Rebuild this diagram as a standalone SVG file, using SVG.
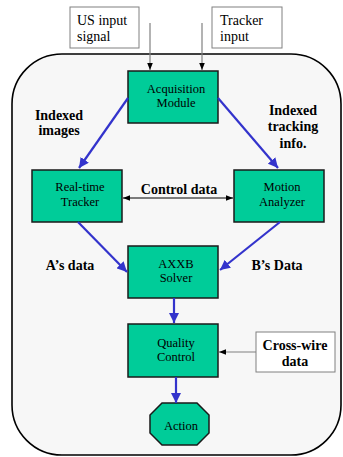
<svg xmlns="http://www.w3.org/2000/svg" width="343" height="457" viewBox="0 0 343 457">
<defs>
<style>
.box{fill:#00CC99;stroke:#1a1a1a;stroke-width:1.5}
.inbox{fill:#ffffff;stroke:#808080;stroke-width:1}
text{font-family:'Liberation Serif','DejaVu Serif','Times New Roman',serif}
.t{font-size:12.5px;fill:#000;text-anchor:middle}
.lb{font-size:14px;font-weight:bold;fill:#000;text-anchor:middle}
.in{font-size:14px;fill:#000}
.blue{stroke:#3333CC;stroke-width:2.2;fill:none}
.grey{stroke:#808080;stroke-width:1.2;fill:none}
.blk{stroke:#000;stroke-width:1;fill:none}
</style>
<marker id="ab" viewBox="0 0 10 10" refX="10" refY="5" markerWidth="10" markerHeight="10" markerUnits="userSpaceOnUse" orient="auto">
<path d="M0,0 L10,5 L0,10 Z" fill="#3333CC"/>
</marker>
<marker id="ak" viewBox="0 0 10 10" refX="10" refY="5" markerWidth="7" markerHeight="7" markerUnits="userSpaceOnUse" orient="auto-start-reverse">
<path d="M0,1 L10,5 L0,9 Z" fill="#000"/>
</marker>
</defs>
<rect x="0" y="0" width="343" height="457" fill="#ffffff"/>
<rect id="frame" x="12" y="54" width="329" height="401" rx="50" ry="50" fill="#f7f7f7" stroke="#000" stroke-width="1.6"/>

<g id="us-input"><rect class="inbox" x="70" y="7" width="69" height="41"/><text class="in" x="77" y="25">US input</text><text class="in" x="77" y="41">signal</text></g>
<g id="tracker-input"><rect class="inbox" x="212" y="7" width="70" height="41"/><text class="in" x="220" y="25">Tracker</text><text class="in" x="220" y="41">input</text></g>

<g id="acquisition"><rect class="box" x="128" y="71" width="90" height="52"/><text class="t" x="176" y="93">Acquisition</text><text class="t" x="176" y="107">Module</text></g>
<g id="realtime"><rect class="box" x="32" y="170" width="90" height="52"/><text class="t" x="80" y="191">Real-time</text><text class="t" x="80" y="206">Tracker</text></g>
<g id="motion"><rect class="box" x="234" y="170" width="90" height="52"/><text class="t" x="282" y="191">Motion</text><text class="t" x="282" y="206">Analyzer</text></g>
<g id="axxb"><rect class="box" x="128" y="246" width="90" height="52"/><text class="t" x="176" y="268">AXXB</text><text class="t" x="176" y="282">Solver</text></g>
<g id="quality"><rect class="box" x="128" y="324" width="90" height="53"/><text class="t" x="176" y="347">Quality</text><text class="t" x="176" y="361">Control</text></g>
<g id="crosswire"><rect class="inbox" x="256" y="332" width="79" height="40"/><text class="lb" x="295" y="350">Cross-wire</text><text class="lb" x="295" y="366">data</text></g>
<g id="action"><polygon class="box" points="162,403 197,403 209,415 209,433 197,445 162,445 150,433 150,415"/><text class="t" x="181" y="430">Action</text></g>

<g id="labels">
<text class="lb" x="59" y="120">Indexed</text><text class="lb" x="59" y="135">images</text>
<text class="lb" x="293" y="115">Indexed</text><text class="lb" x="293" y="131">tracking</text><text class="lb" x="293" y="148">info.</text>
<text class="lb" x="179" y="194">Control data</text>
<text class="lb" x="70" y="270">A’s data</text>
<text class="lb" x="277" y="270">B’s Data</text>
</g>

<g id="connectors">
<line class="grey" x1="150" y1="23" x2="150" y2="70" marker-end="url(#ak)"/>
<line class="grey" x1="202" y1="23" x2="202" y2="70" marker-end="url(#ak)"/>
<line class="blue" x1="128" y1="98" x2="79" y2="168" marker-end="url(#ab)"/>
<line class="blue" x1="218" y1="98" x2="278" y2="168" marker-end="url(#ab)"/>
<line class="blk" x1="123" y1="198" x2="233" y2="198" marker-start="url(#ak)" marker-end="url(#ak)"/>
<line class="blue" x1="78" y1="222" x2="127" y2="272" marker-end="url(#ab)"/>
<line class="blue" x1="280" y1="222" x2="220" y2="270" marker-end="url(#ab)"/>
<line class="blue" x1="174" y1="298" x2="174" y2="323" marker-end="url(#ab)"/>
<line class="grey" x1="256" y1="352" x2="219" y2="352" marker-end="url(#ak)"/>
<line class="blue" x1="176" y1="377" x2="176" y2="403" marker-end="url(#ab)"/>
</g>
</svg>
